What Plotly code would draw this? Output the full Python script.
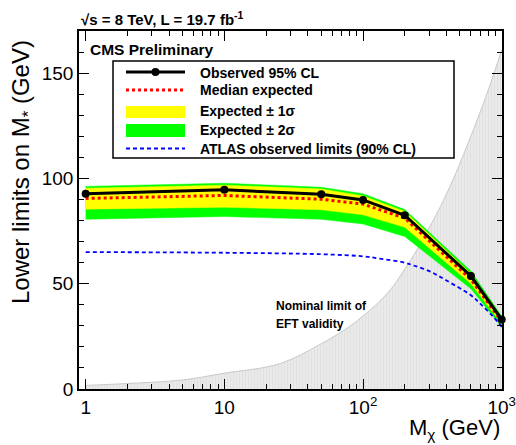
import plotly.graph_objects as go

# ---------------- data ----------------
mass = [1, 10, 50, 100, 200, 600, 1000]
observed = [92.7, 94.6, 92.5, 89.8, 82.5, 53.6, 33.0]
expected = [90.5, 91.9, 90.1, 87.8, 81.1, 52.0, 32.0]
exp_p1 = [95.3, 96.8, 95.0, 91.7, 84.3, 54.7, 33.5]
exp_m1 = [85.4, 86.3, 85.1, 82.7, 76.8, 50.0, 31.0]
exp_p2 = [96.2, 97.7, 95.8, 92.7, 85.2, 56.0, 34.5]
exp_m2 = [80.6, 81.9, 80.6, 78.4, 72.4, 47.6, 29.5]

atlas_mass = [1, 10, 50, 100, 130, 200, 230, 300, 400, 600, 700, 850, 1000]
atlas_lim = [65.0, 64.7, 64.0, 63.0, 62.0, 60.0, 58.7, 56.0, 51.5, 44.5, 40.5, 35.0, 29.5]

eft_mass = [1, 2, 5, 10, 25, 50, 85, 150, 205, 260, 320, 380, 470, 650, 800, 1000]
eft_lim = [1.7, 2.6, 4.3, 7.5, 12.0, 21.5, 31.0, 45.5, 58.0, 69.0, 80.0, 89.5, 103.0, 126.0, 142.0, 161.0]

x_tickvals = [1, 10, 100, 1000]
x_ticktext = ["1", "10", "10<sup>2</sup>", "10<sup>3</sup>"]
y_tickvals = [0, 50, 100, 150]
y_ticktext = ["0", "50", "100", "150"]

legend_labels = [
    "Observed 95% CL",
    "Median expected",
    "Expected ± 1σ",
    "Expected ± 2σ",
    "ATLAS observed limits (90% CL)",
]

# ---------------- layout geometry ----------------
W, H = 516, 445
ML, MR, MT, MB = 79, 14, 31, 56
PW = W - ML - MR
PH = H - MT - MB
FONT = "Liberation Sans, Arial, Helvetica, sans-serif"


def fx(px):
    return (px - ML) / PW


def fy(py):
    return (H - MB - py) / PH


fig = go.Figure()

# EFT validity region (grey, hatched)
fig.add_trace(go.Scatter(
    x=eft_mass, y=eft_lim, mode="lines", fill="tozeroy", line_shape="spline",
    line=dict(color="#c8c8c8", width=1),
    fillcolor="#e8e8e8",
    fillpattern=dict(shape="|", fgcolor="#d6d6d6", bgcolor="#eaeaea", size=3, solidity=0.3),
    showlegend=False, hoverinfo="skip",
))

# +-2 sigma band
fig.add_trace(go.Scatter(
    x=mass + mass[::-1], y=exp_p2 + exp_m2[::-1],
    fill="toself", mode="lines", line=dict(color="#00ff00", width=0.5),
    fillcolor="#00ff00", showlegend=False, hoverinfo="skip",
))
# +-1 sigma band
fig.add_trace(go.Scatter(
    x=mass + mass[::-1], y=exp_p1 + exp_m1[::-1],
    fill="toself", mode="lines", line=dict(color="#ffff00", width=0.5),
    fillcolor="#ffff00", showlegend=False, hoverinfo="skip",
))
# ATLAS
fig.add_trace(go.Scatter(
    x=atlas_mass, y=atlas_lim, mode="lines", line_shape="spline",
    line=dict(color="#0000ff", width=1.8, dash="4px,3px"), showlegend=False,
))
# Median expected
fig.add_trace(go.Scatter(
    x=mass, y=expected, mode="lines",
    line=dict(color="#ff0000", width=3, dash="dot"), showlegend=False,
))
# Observed
fig.add_trace(go.Scatter(
    x=mass, y=observed, mode="lines+markers",
    line=dict(color="black", width=3),
    marker=dict(color="black", size=8),
    cliponaxis=False, showlegend=False,
))

# ---------------- legend (drawn manually) ----------------
shapes = []
annotations = []
shapes.append(dict(type="rect", xref="paper", yref="paper",
                   x0=fx(113), x1=fx(454), y0=fy(158), y1=fy(61),
                   line=dict(color="black", width=1.5), fillcolor="white", layer="above"))
sx0, sx1 = fx(126), fx(185)
row_y = [72, 90, 112, 130.5, 148.5]
# observed sample
shapes.append(dict(type="line", xref="paper", yref="paper", x0=sx0, x1=sx1,
                   y0=fy(row_y[0]), y1=fy(row_y[0]), line=dict(color="black", width=3)))
shapes.append(dict(type="circle", xref="paper", yref="paper",
                   xsizemode="pixel", ysizemode="pixel",
                   xanchor=fx(155.5), yanchor=fy(row_y[0]),
                   x0=-4, x1=4, y0=-4, y1=4, fillcolor="black", line=dict(color="black", width=0)))
# median sample
shapes.append(dict(type="line", xref="paper", yref="paper", x0=sx0, x1=sx1,
                   y0=fy(row_y[1]), y1=fy(row_y[1]), line=dict(color="#ff0000", width=3, dash="dot")))
# yellow, green samples
shapes.append(dict(type="rect", xref="paper", yref="paper", x0=sx0, x1=sx1,
                   y0=fy(row_y[2] + 6), y1=fy(row_y[2] - 6), fillcolor="#ffff00", line=dict(width=0)))
shapes.append(dict(type="rect", xref="paper", yref="paper", x0=sx0, x1=sx1,
                   y0=fy(row_y[3] + 6.5), y1=fy(row_y[3] - 6.5), fillcolor="#00ff00", line=dict(width=0)))
# atlas sample
shapes.append(dict(type="line", xref="paper", yref="paper", x0=sx0, x1=sx1,
                   y0=fy(row_y[4]), y1=fy(row_y[4]), line=dict(color="#0000ff", width=1.8, dash="4px,3px")))

text_y = [73, 90, 111, 129.5, 148.5]
for lab, ty in zip(legend_labels, text_y):
    annotations.append(dict(xref="paper", yref="paper", x=fx(198), y=fy(ty),
                            xanchor="left", yanchor="middle", showarrow=False,
                            text="<b>" + lab + "</b>", font=dict(family=FONT, size=14, color="black")))

# header texts
annotations.append(dict(xref="paper", yref="paper", x=fx(79), y=fy(19), xanchor="left", yanchor="middle",
                        showarrow=False, text="<b>√s = 8 TeV, L = 19.7 fb<sup>-1</sup></b>",
                        font=dict(family=FONT, size=15, color="black")))
annotations.append(dict(xref="paper", yref="paper", x=fx(88), y=fy(49.5), xanchor="left", yanchor="middle",
                        showarrow=False, text="<b>CMS Preliminary</b>",
                        font=dict(family=FONT, size=15.5, color="black")))
annotations.append(dict(xref="paper", yref="paper", x=fx(274), y=fy(305.5), xanchor="left", yanchor="middle",
                        showarrow=False, text="<b>Nominal limit of</b>",
                        font=dict(family=FONT, size=12, color="black")))
annotations.append(dict(xref="paper", yref="paper", x=fx(274), y=fy(323.5), xanchor="left", yanchor="middle",
                        showarrow=False, text="<b>EFT validity</b>",
                        font=dict(family=FONT, size=12, color="black")))
# axis titles
annotations.append(dict(xref="paper", yref="paper", x=fx(502), y=fy(413), xanchor="right", yanchor="top",
                        showarrow=False, text="M<sub>χ</sub> (GeV)",
                        font=dict(family=FONT, size=22, color="black")))
annotations.append(dict(xref="paper", yref="paper", x=fx(22), y=fy(38), xanchor="center", yanchor="top",
                        textangle=-90, showarrow=False, text="Lower limits on M<sub>*</sub> (GeV)",
                        font=dict(family=FONT, size=24, color="black")))

minor_x = [m * 10 ** d for d in range(0, 3) for m in range(2, 10)]

fig.update_layout(
    width=W, height=H,
    margin=dict(l=ML, r=MR, t=MT, b=MB, pad=0, autoexpand=False),
    paper_bgcolor="white", plot_bgcolor="white",
    shapes=shapes, annotations=annotations,
    showlegend=False,
    font=dict(family=FONT, color="black"),
    xaxis=dict(
        type="log", range=[-0.048, 3.002], automargin=False,
        tickmode="array", tickvals=x_tickvals, ticktext=x_ticktext,
        ticks="inside", ticklen=10, tickwidth=1, tickcolor="black",
        minor=dict(tickmode="array", tickvals=minor_x, ticks="inside", ticklen=5,
                   tickwidth=1, tickcolor="black", showgrid=False),
        showline=True, linecolor="black", linewidth=1.5, mirror="ticks",
        showgrid=False, zeroline=False,
        tickfont=dict(family=FONT, size=19, color="black"),
    ),
    yaxis=dict(
        range=[0, 170], automargin=False,
        tickmode="array", tickvals=y_tickvals, ticktext=y_ticktext,
        ticks="inside", ticklen=10, tickwidth=1, tickcolor="black",
        minor=dict(dtick=10, ticks="inside", ticklen=5, tickwidth=1, tickcolor="black", showgrid=False),
        showline=True, linecolor="black", linewidth=1.5, mirror="ticks",
        showgrid=False, zeroline=False,
        tickfont=dict(family=FONT, size=19, color="black"),
    ),
)

fig.write_html("out.html", config={"displayModeBar": False},
               post_script="document.body.style.margin='0';")
